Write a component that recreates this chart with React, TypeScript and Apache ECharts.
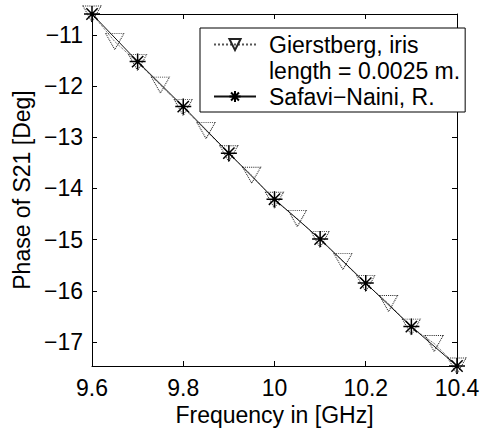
import React, { useEffect, useRef } from "react";
import * as echarts from "echarts";

const xGierstberg = [9.6, 9.65, 9.7, 9.75, 9.8, 9.85, 9.9, 9.95, 10.0, 10.05, 10.1, 10.15, 10.2, 10.25, 10.3, 10.35, 10.4];
const yGierstberg = [-10.59, -11.13, -11.54, -11.98, -12.42, -12.87, -13.32, -13.74, -14.23, -14.59, -15.0, -15.43, -15.86, -16.25, -16.71, -17.03, -17.47];
const xSafavi = [9.6, 9.7, 9.8, 9.9, 10.0, 10.1, 10.2, 10.3, 10.4];
const ySafavi = [-10.59, -11.52, -12.4, -13.31, -14.21, -14.99, -15.85, -16.7, -17.47];

const nameG = "Gierstberg, iris";
const nameG2 = "length = 0.0025 m.";
const nameS = "Safavi\u2212Naini, R.";

const FONT = "'Liberation Sans', Arial, Helvetica, sans-serif";
const FS = 23;

const starPath =
  "path://M10,0L10,20M0,10L20,10M2.93,2.93L17.07,17.07M17.07,2.93L2.93,17.07";
const triDownPath = "path://M0,0L20,0L10,17Z";

const minusFmt = (v: number) => String(v).replace("-", "\u2212");

export default function App() {
  const ref = useRef<HTMLDivElement>(null);
  useEffect(() => {
    if (!ref.current) return;
    const chart = echarts.init(ref.current, undefined, { renderer: "svg" });
    const axisLine = { show: true, onZero: false, lineStyle: { color: "#000", width: 1 } };
    const axisTick = { show: true, inside: true, length: 5, lineStyle: { color: "#000", width: 1 } };
    chart.setOption({
      animation: false,
      backgroundColor: "#fff",
      textStyle: { fontFamily: FONT },
      grid: { left: 92, right: 33, top: 14, bottom: 66, containLabel: false },
      legend: {
        left: 200,
        top: 28,
        orient: "vertical",
        backgroundColor: "#fff",
        borderColor: "#000",
        borderWidth: 1,
        borderRadius: 0,
        padding: [5, 5, 4, 13],
        itemGap: 3,
        itemWidth: 42,
        itemHeight: 14,
        selectedMode: false,
        data: [{ name: nameG }, { name: nameG2 }, { name: nameS }],
        textStyle: { fontFamily: FONT, fontSize: FS, color: "#000", padding: [0, 0, 0, 8] },
      },
      xAxis: [
        {
          type: "value",
          min: 9.6,
          max: 10.4,
          interval: 0.2,
          position: "bottom",
          axisLine,
          axisTick,
          splitLine: { show: false },
          axisLabel: { color: "#000", fontSize: FS, fontFamily: FONT, margin: 10 },
          name: "Frequency in [GHz]",
          nameLocation: "middle",
          nameGap: 37,
          nameTextStyle: { color: "#000", fontSize: FS, fontFamily: FONT },
        },
        {
          type: "value",
          min: 9.6,
          max: 10.4,
          interval: 0.2,
          position: "top",
          axisLine,
          axisTick,
          splitLine: { show: false },
          axisLabel: { show: false },
        },
      ],
      yAxis: [
        {
          type: "value",
          min: -17.47,
          max: -10.59,
          minInterval: 1,
          maxInterval: 1,
          position: "left",
          axisLine,
          axisTick,
          splitLine: { show: false },
          axisLabel: {
            color: "#000",
            fontSize: FS,
            fontFamily: FONT,
            margin: 9,
            showMinLabel: false,
            showMaxLabel: false,
            formatter: minusFmt,
          },
          name: "Phase of S21 [Deg]",
          nameLocation: "middle",
          nameGap: 57,
          nameTextStyle: { color: "#000", fontSize: FS, fontFamily: FONT },
        },
        {
          type: "value",
          min: -17.47,
          max: -10.59,
          minInterval: 1,
          maxInterval: 1,
          position: "right",
          axisLine,
          axisTick,
          splitLine: { show: false },
          axisLabel: { show: false },
        },
      ],
      series: [
        {
          name: nameG,
          type: "line",
          xAxisIndex: 0,
          yAxisIndex: 0,
          data: xGierstberg.map((x, i) => [x, yGierstberg[i]]),
          symbol: triDownPath,
          symbolSize: [18, 16],
          showAllSymbol: true,
          lineStyle: { color: "#555", width: 1, type: "dotted" },
          itemStyle: { color: "rgba(255,255,255,0)", borderColor: "#222", borderWidth: 1, borderType: "dotted" },
          z: 3,
        },
        {
          name: nameG2,
          type: "line",
          data: [],
          symbol: "none",
          lineStyle: { opacity: 0 },
          itemStyle: { opacity: 0 },
        },
        {
          name: nameS,
          type: "line",
          xAxisIndex: 0,
          yAxisIndex: 0,
          data: xSafavi.map((x, i) => [x, ySafavi[i]]),
          symbol: starPath,
          symbolSize: 16,
          showAllSymbol: true,
          lineStyle: { color: "#111", width: 1, type: "solid" },
          itemStyle: { color: "#000", borderColor: "#000", borderWidth: 1.5 },
          z: 4,
        },
      ],
    });
    return () => chart.dispose();
  }, []);
  return (
    <div
      ref={ref}
      style={{ position: "fixed", left: 0, top: 0, width: 490, height: 432 }}
    />
  );
}
